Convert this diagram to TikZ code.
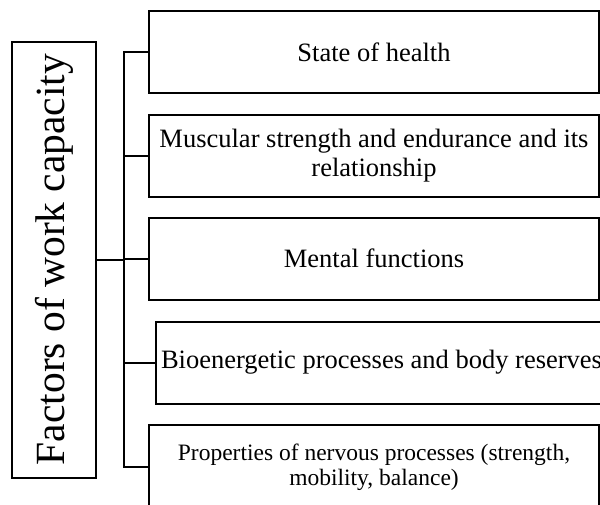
\documentclass[tikz,border=0pt]{standalone}
\usepackage{fontspec}
\setmainfont{Liberation Serif}
\usepackage{tikz}
\usetikzlibrary{positioning}

\begin{document}
\begin{tikzpicture}[x=1pt,y=-1pt,line width=2pt,
    factor/.style={rectangle,draw=black,anchor=center,
                   minimum width=450pt,minimum height=82pt,
                   text width=440pt,align=flush center,inner sep=4pt,
                   font=\fontsize{26.5}{29}\selectfont},
    title/.style={rectangle,draw=black,rotate=90,
                  minimum width=436pt,minimum height=84pt,inner sep=0pt,
                  font=\fontsize{41.5}{44}\selectfont},
   ]
  \useasboundingbox (0,0) rectangle (600,504);
  \clip (0,0) rectangle (600,504);
  \node[title] (F) at (54,259.5) {Factors of work capacity};
  \node[factor] (B1) at (374,52) {State of health};
  \node[factor] (B2) at (374,156) {Muscular strength and endurance and its relationship};
  \node[factor] (B3) at (374,258.5) {Mental functions};
  \node[factor,text width=,anchor=west,minimum width=444pt,inner sep=5pt] (B4) at (155,362.5)
       {Bioenergetic processes and body reserves};
  \node[factor,minimum height=84pt,font=\fontsize{23.5}{25}\selectfont] (B5) at (374,467)
       {Properties of nervous processes (strength, mobility, balance)};
  \coordinate (hub) at (124,259.5);
  \draw (F.south) -- (hub);
  \foreach \b in {B1,B2,B3,B4,B5}
    \draw (\b.west) -| (hub);
\end{tikzpicture}
\end{document}
